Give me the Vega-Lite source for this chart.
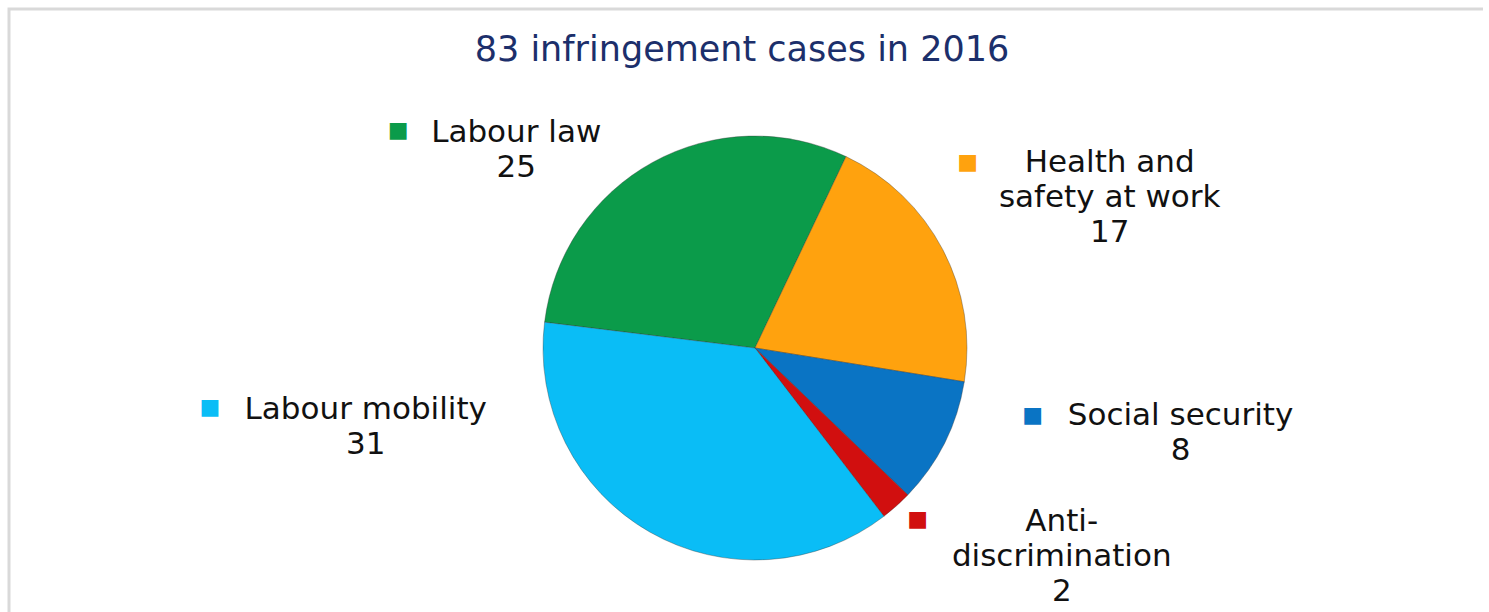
{
  "$schema": "https://vega.github.io/schema/vega-lite/v6.json",
  "autosize": "none",
  "width": 1492,
  "height": 678,
  "padding": {"left": 9, "top": 9, "right": -12, "bottom": -75},
  "background": "white",
  "title": {
    "text": "83 infringement cases in 2016",
    "font": "DejaVu Sans",
    "fontSize": 35,
    "fontWeight": "normal",
    "color": "#1c2f6b",
    "anchor": "middle",
    "frame": "group",
    "baseline": "alphabetic",
    "offset": 0,
    "dy": 88,
    "dx": -13
  },
  "data": {
    "values": [
      {"category": "Labour law", "label": "Labour law", "value": 25, "order": 1},
      {"category": "Health and safety at work", "label": "Health and\nsafety at work", "value": 17, "order": 2},
      {"category": "Social security", "label": "Social security", "value": 8, "order": 3},
      {"category": "Anti-discrimination", "label": "Anti-\ndiscrimination", "value": 2, "order": 4},
      {"category": "Labour mobility", "label": "Labour mobility", "value": 31, "order": 5}
    ]
  },
  "config": {
    "view": {"stroke": "#d9d9d9", "strokeWidth": 3},
    "text": {"font": "DejaVu Sans", "fontSize": 31, "color": "#111111", "lineBreak": "\n", "lineHeight": 35, "align": "center", "baseline": "middle"}
  },
  "layer": [
    {
      "transform": [{"aggregate": [{"op": "count", "as": "n"}]}],
      "mark": {"type": "rect", "fill": null, "stroke": "#d9d9d9", "strokeWidth": 3, "strokeDash": [1474, 2152, 720]},
      "encoding": {}
    },
    {
      "mark": {"type": "arc", "outerRadius": 212, "stroke": "#333333", "strokeWidth": 0.8, "strokeOpacity": 0.45},
      "encoding": {
        "theta": {"field": "value", "type": "quantitative", "stack": true, "scale": {"range": [4.8346, 11.1178]}},
        "color": {
          "field": "category", "type": "nominal", "legend": null,
          "scale": {
            "domain": ["Labour law", "Health and safety at work", "Social security", "Anti-discrimination", "Labour mobility"],
            "range": ["#0b9b4a", "#ffa20e", "#0a74c4", "#d10f0f", "#0abdf6"]
          }
        },
        "order": {"field": "order", "type": "quantitative"}
      }
    },
    {
      "transform": [
        {"stack": "value", "groupby": [], "sort": [{"field": "order"}], "as": ["v0", "v1"]},
        {"calculate": "(datum.v0 + datum.v1) / 2", "as": "mid"},
        {"calculate": "datum.label + '\\n' + datum.value", "as": "txt"},
        {"filter": "datum.category === 'Labour law'"}
      ],
      "layer": [
        {"mark": {"type": "text", "radius": 311, "thetaOffset": -0.373, "dy": -16},
         "encoding": {"theta": {"field": "mid", "type": "quantitative", "stack": null}, "text": {"field": "txt"}}},
        {"mark": {"type": "text", "radius": 311, "thetaOffset": -0.373, "dx": -118, "dy": -19, "fontSize": 22},
         "encoding": {"theta": {"field": "mid", "type": "quantitative", "stack": null}, "text": {"value": "■"}, "color": {"field": "category", "type": "nominal"}}}
      ]
    },
    {
      "transform": [
        {"stack": "value", "groupby": [], "sort": [{"field": "order"}], "as": ["v0", "v1"]},
        {"calculate": "(datum.v0 + datum.v1) / 2", "as": "mid"},
        {"calculate": "datum.label + '\\n' + datum.value", "as": "txt"},
        {"filter": "datum.category === 'Health and safety at work'"}
      ],
      "layer": [
        {"mark": {"type": "text", "radius": 385, "thetaOffset": 0.084, "dy": -35},
         "encoding": {"theta": {"field": "mid", "type": "quantitative", "stack": null}, "text": {"field": "txt"}}},
        {"mark": {"type": "text", "radius": 385, "thetaOffset": 0.084, "dx": -142, "dy": -36, "fontSize": 22},
         "encoding": {"theta": {"field": "mid", "type": "quantitative", "stack": null}, "text": {"value": "■"}, "color": {"field": "category", "type": "nominal"}}}
      ]
    },
    {
      "transform": [
        {"stack": "value", "groupby": [], "sort": [{"field": "order"}], "as": ["v0", "v1"]},
        {"calculate": "(datum.v0 + datum.v1) / 2", "as": "mid"},
        {"calculate": "datum.label + '\\n' + datum.value", "as": "txt"},
        {"filter": "datum.category === 'Social security'"}
      ],
      "layer": [
        {"mark": {"type": "text", "radius": 434, "thetaOffset": -0.265, "dy": -17},
         "encoding": {"theta": {"field": "mid", "type": "quantitative", "stack": null}, "text": {"field": "txt"}}},
        {"mark": {"type": "text", "radius": 434, "thetaOffset": -0.265, "dx": -148, "dy": -18, "fontSize": 22},
         "encoding": {"theta": {"field": "mid", "type": "quantitative", "stack": null}, "text": {"value": "■"}, "color": {"field": "category", "type": "nominal"}}}
      ]
    },
    {
      "transform": [
        {"stack": "value", "groupby": [], "sort": [{"field": "order"}], "as": ["v0", "v1"]},
        {"calculate": "(datum.v0 + datum.v1) / 2", "as": "mid"},
        {"calculate": "datum.label + '\\n' + datum.value", "as": "txt"},
        {"filter": "datum.category === 'Anti-discrimination'"}
      ],
      "layer": [
        {"mark": {"type": "text", "radius": 371, "thetaOffset": -0.244, "dy": -35},
         "encoding": {"theta": {"field": "mid", "type": "quantitative", "stack": null}, "text": {"field": "txt"}}},
        {"mark": {"type": "text", "radius": 371, "thetaOffset": -0.244, "dx": -144, "dy": -38, "fontSize": 22},
         "encoding": {"theta": {"field": "mid", "type": "quantitative", "stack": null}, "text": {"value": "■"}, "color": {"field": "category", "type": "nominal"}}}
      ]
    },
    {
      "transform": [
        {"stack": "value", "groupby": [], "sort": [{"field": "order"}], "as": ["v0", "v1"]},
        {"calculate": "(datum.v0 + datum.v1) / 2", "as": "mid"},
        {"calculate": "datum.label + '\\n' + datum.value", "as": "txt"},
        {"filter": "datum.category === 'Labour mobility'"}
      ],
      "layer": [
        {"mark": {"type": "text", "radius": 397, "thetaOffset": 0.853, "dy": -16},
         "encoding": {"theta": {"field": "mid", "type": "quantitative", "stack": null}, "text": {"field": "txt"}}},
        {"mark": {"type": "text", "radius": 397, "thetaOffset": 0.853, "dx": -156, "dy": -19, "fontSize": 22},
         "encoding": {"theta": {"field": "mid", "type": "quantitative", "stack": null}, "text": {"value": "■"}, "color": {"field": "category", "type": "nominal"}}}
      ]
    }
  ]
}
